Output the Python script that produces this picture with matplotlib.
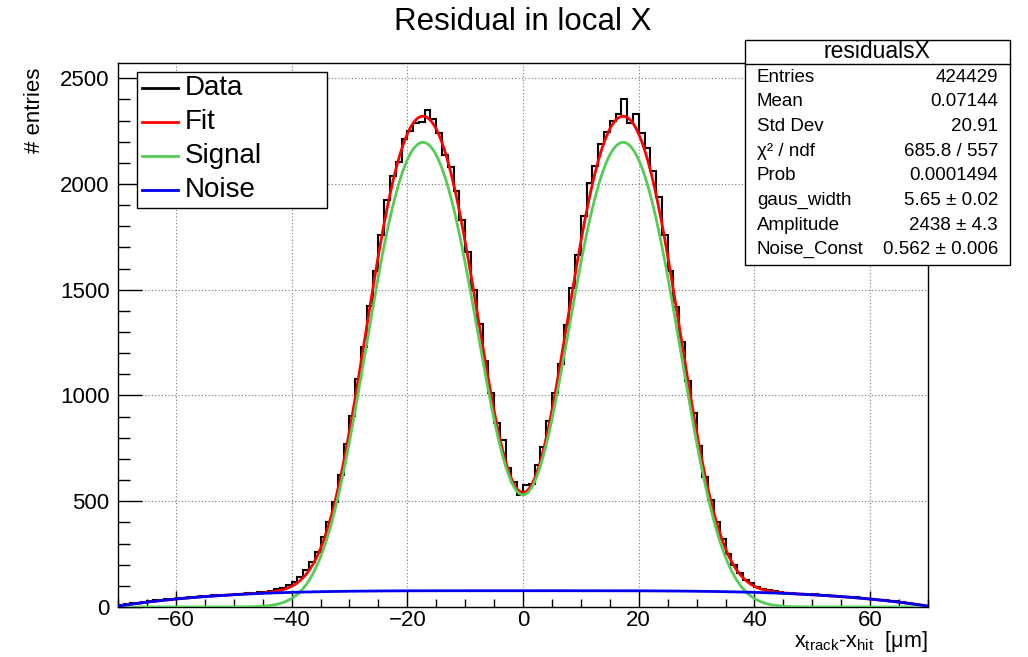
import math

import numpy as np
import matplotlib
matplotlib.use("Agg")
from matplotlib import pyplot as plt
from matplotlib.lines import Line2D
from matplotlib.patches import Rectangle

plt.rcParams['font.family'] = ['Liberation Sans', 'DejaVu Sans']
plt.rcParams['mathtext.fontset'] = 'custom'
plt.rcParams['mathtext.rm'] = 'Liberation Sans'
plt.rcParams['mathtext.it'] = 'Liberation Sans'

# residual histogram, 1 um bins from -70 to 70 (counts per 0.25 um)
bin_edges = np.arange(-70, 71, 1)
counts_left = [8, 12, 17, 21, 24, 27, 31, 33, 37, 38,
               44, 43, 47, 48, 52, 51, 56, 55, 59, 58,
               62, 61, 66, 65, 70, 72, 78, 84, 92, 103,
               118, 142, 175, 212, 262, 330, 402, 495, 622, 770,
               905, 1080, 1230, 1425, 1590, 1760, 1925, 2040, 2105, 2215,
               2250, 2290, 2295, 2350, 2305, 2240, 2135, 2080, 1965, 1830,
               1680, 1500, 1340, 1165, 1010, 870, 790, 655, 590, 530]
counts_right = [575, 580, 672, 755, 880, 1010, 1150, 1335, 1510, 1665,
                1850, 2005, 2085, 2190, 2245, 2300, 2330, 2400, 2290, 2330,
                2240, 2170, 2060, 1940, 1760, 1590, 1420, 1255, 1070, 915,
                760, 615, 505, 400, 320, 250, 198, 162, 130, 112,
                95, 86, 79, 74, 71, 68, 67, 63, 63, 59,
                60, 56, 57, 52, 53, 48, 49, 45, 44, 40,
                39, 34, 33, 28, 27, 22, 19, 15, 11, 6]
counts = np.array(counts_left + counts_right)

# fit parameters
AMPLITUDE = 2438
GAUS_WIDTH = 5.65
SIGNAL_WIDTH = 6.0
BOX_INNER = 7.4
BOX_OUTER = 27.2
NOISE_LEVEL = 77
NOISE_REACH = 71

stats_rows = [("Entries", "424429"),
              ("Mean", "0.07144"),
              ("Std Dev", "20.91"),
              ("χ² / ndf", "685.8 / 557"),
              ("Prob", "0.0001494"),
              ("gaus_width", "5.65 ± 0.02"),
              ("Amplitude", "2438 ± 4.3"),
              ("Noise_Const", "0.562 ± 0.006")]

erf = np.frompyfunc(math.erf, 1, 1)


def box_gaus(x, width):
    # two flat boxes smeared by a gaussian
    s = math.sqrt(2) * width
    right = erf((x - BOX_INNER) / s) - erf((x - BOX_OUTER) / s)
    left = erf((x + BOX_OUTER) / s) - erf((x + BOX_INNER) / s)
    return (AMPLITUDE / 2 * (right + left)).astype(float)


def noise(x):
    return NOISE_LEVEL * (1 - (np.abs(x) / NOISE_REACH) ** 4)


xs = np.linspace(-70, 70, 1400)
fit_curve = box_gaus(xs, GAUS_WIDTH) + noise(xs)
signal_curve = box_gaus(xs, SIGNAL_WIDTH)
noise_curve = noise(xs)

W, H = 1028, 657
fig = plt.figure(figsize=(W / 100, H / 100), dpi=100)
ax = fig.add_axes([118 / W, 50 / H, 810 / W, 544 / H])

ax.stairs(counts, bin_edges, color='black', lw=1.5, zorder=2)
ax.plot(xs, fit_curve, color='#ff0000', lw=2.0, zorder=3)
ax.plot(xs, signal_curve, color='#55cc55', lw=2.0, zorder=4)
ax.plot(xs, noise_curve, color='#0000ee', lw=2.0, zorder=5)

ax.set_xlim(-70, 70)
ax.set_ylim(0, 2572)
ax.set_xticks(np.arange(-60, 61, 20))
ax.set_xticks(np.arange(-70, 71, 5), minor=True)
ax.set_yticks(np.arange(0, 2501, 500))
ax.set_yticks(np.arange(0, 2501, 100), minor=True)
ax.tick_params(axis='x', which='major', direction='in', length=11.5, width=1, labelsize=16, pad=2)
ax.tick_params(axis='x', which='minor', direction='in', length=5.8, width=1)
ax.tick_params(axis='y', which='major', direction='in', length=17, width=1, labelsize=16, pad=6)
ax.tick_params(axis='y', which='minor', direction='in', length=8.6, width=1)
ax.grid(True, which='major', color='#777777', linestyle=(0, (1, 2)), lw=0.8)
for sp in ax.spines.values():
    sp.set_linewidth(1.0)


def fx(px):
    return px / W


def fy(py):
    return 1 - py / H


fig.text(fx(523), fy(22), "Residual in local X", ha='center', va='center', fontsize=22.5)
fig.text(fx(35), fy(68), "# entries", rotation=90, ha='center', va='top', fontsize=16)
fig.text(fx(928), fy(647), r"x$_{\mathrm{track}}$-x$_{\mathrm{hit}}$  [μm]",
         ha='right', va='baseline', fontsize=15.5)

# legend
fig.add_artist(Rectangle((fx(137), fy(208)), fx(327) - fx(137), fy(72) - fy(208),
                         transform=fig.transFigure, facecolor='white', edgecolor='black',
                         lw=1.0, zorder=10))
legend_items = [("Data", 'black'), ("Fit", '#ff0000'), ("Signal", '#55cc55'), ("Noise", '#0000ee')]
for i, (name, col) in enumerate(legend_items):
    yy = 88 + i * 34
    fig.add_artist(Line2D([fx(142), fx(178)], [fy(yy), fy(yy)], transform=fig.transFigure,
                          color=col, lw=2.0, zorder=11))
    fig.text(fx(185), fy(yy), name, ha='left', va='center', fontsize=20, zorder=11)

# stats box
fig.add_artist(Rectangle((fx(745), fy(265)), fx(1010) - fx(745), fy(40) - fy(265),
                         transform=fig.transFigure, facecolor='white', edgecolor='black',
                         lw=1.0, zorder=10))
fig.add_artist(Line2D([fx(745), fx(1010)], [fy(64), fy(64)], transform=fig.transFigure,
                      color='black', lw=1.0, zorder=11))
fig.text(fx(877), fy(52), "residualsX", ha='center', va='center', fontsize=16.5, zorder=11)
for i, (name, val) in enumerate(stats_rows):
    yy = 77 + i * 24.7
    fig.text(fx(757), fy(yy), name, ha='left', va='center', fontsize=13.5, zorder=11)
    fig.text(fx(998), fy(yy), val, ha='right', va='center', fontsize=13.5, zorder=11)

fig.savefig("out.png", dpi=100)
